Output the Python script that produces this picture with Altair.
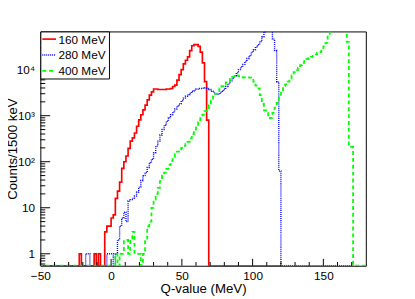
import altair as alt
import pandas as pd

# ---------------- data ----------------
BIN_WIDTH = 1.5          # MeV (1500 keV per bin)
X_MIN, X_MAX = -50, 180
Y_MIN, Y_MAX = 0.55, 67600
PAD_START = -51.0

series_names = ["160 MeV", "280 MeV", "400 MeV"]
series_colors = ["#ff0000", "#0000ff", "#00ff00"]

# 160 MeV: first bin starts at -22.5 MeV
red_start = -22.5
red_counts = [1, 0, 0, 0, 0, 0, 0, 1, 0, 1, 0, 0, 3, 4, 4, 6, 7, 16, 23, 36,
              72, 100, 133, 195, 280, 330, 420, 590, 810, 1050, 1340, 1700,
              2200, 2800, 3300, 3800, 3800, 3700, 3700, 3700, 3700, 3800, 3800,
              3900, 4300, 4600, 5900, 7800, 10000, 13400, 16000, 19000, 26000,
              33000, 35000, 35000, 32000, 24000, 14000, 5500, 800]
red_floor_until = 120.0

# 280 MeV: first bin starts at -18 MeV
blue_start = -18.0
blue_counts = [1, 1, 0, 0, 0, 0, 0, 0, 0, 0, 1, 1, 1, 0, 1, 2, 4, 6, 8, 5,
               14, 15, 16, 18, 22, 28, 39, 50, 58, 75, 95, 113, 157, 218, 280,
               380, 500, 620, 760, 900, 1050, 1200, 1400, 1600, 1800, 2100,
               2400, 2650, 2850, 3100, 3400, 3600, 3800, 3900, 3900, 3950, 4000,
               3900, 3700, 3400, 3200, 3000, 2900, 3100, 3400, 3800, 4300, 4900,
               5700, 6500, 7300, 8500, 10000, 11500, 13000, 15000, 17500, 20000,
               24000, 27000, 31000, 35000, 41000, 52000, 66000, 80000, 80000,
               80000, 46000, 26000, 5400, 63]
blue_floor_until = 171.0

# 400 MeV: first bin starts at 3 MeV
green_start = 3.0
green_counts = [1, 0, 1, 1, 2, 2, 1, 2, 3, 1, 1, 1, 0, 1, 2, 4, 5, 10, 15, 20,
                27, 38, 50, 58, 70, 85, 105, 125, 145, 165, 185, 200, 220, 240,
                270, 320, 400, 500, 590, 720, 880, 1050, 1250, 1400, 1700, 2100,
                2600, 3000, 3400, 3900, 4400, 4900, 5300, 5600, 6300, 7000, 7500,
                7500, 7200, 6900, 6800, 6700, 6800, 6700, 6000, 5500, 4500, 3900,
                2800, 1800, 1300, 1200, 880, 900, 1150, 1500, 1900, 2600, 3400,
                4400, 4800, 5500, 6500, 7500, 8800, 9800, 11000, 12500, 14000,
                15500, 17000, 18000, 19000, 20000, 21500, 23000, 24000, 26000,
                32000, 38000, 52000, 75000, 90000, 90000, 90000, 90000, 90000,
                90000, 90000, 40000, 220, 210]
green_floor_until = 181.5

x_tick_major = [-50, 0, 50, 100, 150]
x_tick_minor = [-40, -30, -20, -10, 10, 20, 30, 40, 60, 70, 80, 90,
                110, 120, 130, 140, 160, 170]
y_tick_major = [1, 10, 100, 1000, 10000]
y_tick_labels = ["1", "10", "10\u00b2", "10\u00b3", "10\u2074"]
y_tick_minor = [0.6, 0.7, 0.8, 0.9, 2, 3, 4, 5, 6, 7, 8, 9,
                20, 30, 40, 50, 60, 70, 80, 90, 200, 300, 400, 500, 600, 700,
                800, 900, 2000, 3000, 4000, 5000, 6000, 7000, 8000, 9000,
                20000, 30000, 40000, 50000, 60000]

x_title = "Q-value (MeV)"
y_title = "Counts/1500 keV"

# ---------------- build step tables ----------------
def step_table(start, counts, floor_until):
    n_pre = int(round((start - PAD_START) / BIN_WIDTH))
    vals = [0] * n_pre + list(counts)
    end = start + len(counts) * BIN_WIDTH
    n_post = int(round((floor_until - end) / BIN_WIDTH))
    vals += [0] * max(n_post, 0)
    xs = [PAD_START + i * BIN_WIDTH for i in range(len(vals))]
    xs.append(xs[-1] + BIN_WIDTH)
    vals.append(vals[-1])
    ys = [v if v > 0 else Y_MIN for v in vals]
    return pd.DataFrame({"q": xs, "counts": ys})

tables = [
    step_table(red_start, red_counts, red_floor_until),
    step_table(blue_start, blue_counts, blue_floor_until),
    step_table(green_start, green_counts, green_floor_until),
]
styles = [
    dict(strokeWidth=1.7),
    dict(strokeWidth=1.4, strokeDash=[1, 1]),
    dict(strokeWidth=1.8, strokeDash=[4, 3]),
]

W, H = 332, 239
FONT = "Liberation Sans"

x_scale = alt.Scale(domain=[X_MIN, X_MAX], nice=False, zero=False)
y_scale = alt.Scale(type="log", domain=[Y_MIN, Y_MAX], nice=False)

label_expr = " : ".join(
    f"datum.value == {v} ? '{t}'" for v, t in zip(y_tick_major, y_tick_labels)
) + " : ''"

x_axis = alt.Axis(values=x_tick_major, ticks=False, domain=False, grid=False,
                  labelFont=FONT, labelFontSize=12, labelColor="#000",
                  labelPadding=5, labelFlush=False, labelOverlap=False,
                  title=x_title, titleFont=FONT, titleFontSize=13.5,
                  titleFontWeight="normal", titleColor="#000",
                  titleX=W / 2, titleY=26.8, titleAlign="center",
                  titleBaseline="alphabetic")
y_axis = alt.Axis(values=y_tick_major, ticks=False, domain=False, grid=False,
                  labelExpr=label_expr,
                  labelFont=FONT, labelFontSize=12, labelColor="#000",
                  labelPadding=6, labelFlush=False, labelOverlap=False,
                  title=y_title, titleFont=FONT, titleFontSize=13.5,
                  titleFontWeight="normal", titleColor="#000",
                  titleAngle=270, titleX=-24, titleY=H / 2,
                  titleAlign="center", titleBaseline="alphabetic")

layers = []
for i, (df, col, st) in enumerate(zip(tables, series_colors, styles)):
    layers.append(
        alt.Chart(df).mark_line(interpolate="step-after", clip=True, color=col, **st)
        .encode(x=alt.X("q:Q", scale=x_scale, axis=x_axis),
                y=alt.Y("counts:Q", scale=y_scale, axis=y_axis))
    )

# inward tick marks
def xticks(vals, length):
    return alt.Chart(pd.DataFrame({"q": vals})).mark_rule(color="#000", strokeWidth=1).encode(
        x=alt.X("q:Q", scale=x_scale, axis=x_axis),
        y=alt.value(H), y2=alt.value(H - length))

def yticks(vals, length):
    return alt.Chart(pd.DataFrame({"counts": vals})).mark_rule(color="#000", strokeWidth=1).encode(
        y=alt.Y("counts:Q", scale=y_scale, axis=y_axis),
        x=alt.value(0), x2=alt.value(length))

layers += [xticks(x_tick_major, 7), xticks(x_tick_minor, 3.8),
           yticks(y_tick_major, 10), yticks(y_tick_minor, 5)]

# legend box
one = pd.DataFrame({"a": [0]})
layers.append(alt.Chart(one).mark_rect(fill="white", stroke="#000", strokeWidth=1).encode(
    x=alt.value(0.5), x2=alt.value(70.5), y=alt.value(0.5), y2=alt.value(48.5)))
LEG_Y0, LEG_DY = 7.8, 16.2
for i, (name, col, st) in enumerate(zip(series_names, series_colors, styles)):
    ly = LEG_Y0 + LEG_DY * i
    layers.append(alt.Chart(one).mark_rule(color=col, **st).encode(
        x=alt.value(2), x2=alt.value(16), y=alt.value(ly)))
    layers.append(alt.Chart(pd.DataFrame({"name": [name]})).mark_text(
        align="left", baseline="middle", font=FONT, fontSize=12, color="#000").encode(
        x=alt.value(18.5), y=alt.value(ly + 0.5), text="name:N"))

chart = alt.layer(*layers).properties(
    width=W, height=H,
    autosize=alt.AutoSizeParams(type="none"),
    padding={"left": 33, "top": 21, "right": 42, "bottom": 31},
    background="white",
).configure_view(stroke="#000", strokeWidth=1)

chart.save("out.html", embed_options={"renderer": "svg", "actions": False})
